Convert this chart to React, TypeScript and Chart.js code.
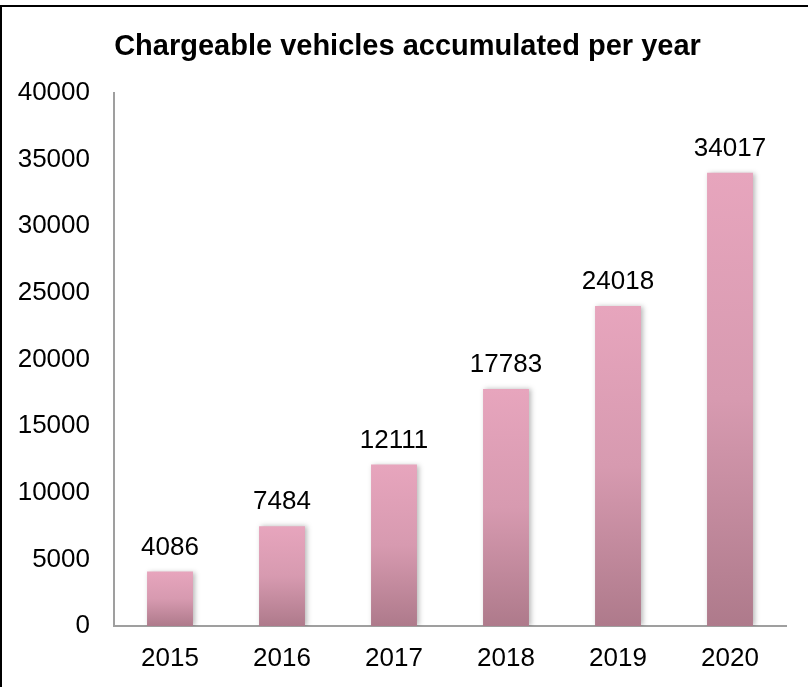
import React, { useEffect, useRef } from "react";
import { Chart, registerables } from "chart.js";

Chart.register(...registerables);

const TITLE = "Chargeable vehicles accumulated per year";
const YEARS = ["2015", "2016", "2017", "2018", "2019", "2020"];
const VEHICLES = [4086, 7484, 12111, 17783, 24018, 34017];
const Y_TICKS = [0, 5000, 10000, 15000, 20000, 25000, 30000, 35000, 40000];

const FONT = "'Liberation Sans', Arial, sans-serif";

export default function App() {
  const canvasRef = useRef<HTMLCanvasElement | null>(null);

  useEffect(() => {
    if (!canvasRef.current) return;

    const shadowPlugin = {
      id: "barShadow",
      beforeDatasetDraw(chart: any) {
        const ctx = chart.ctx;
        ctx.save();
        ctx.shadowColor = "rgba(0,0,0,0.28)";
        ctx.shadowBlur = 5;
        ctx.shadowOffsetX = 2;
        ctx.shadowOffsetY = 0;
      },
      afterDatasetDraw(chart: any) {
        chart.ctx.restore();
      },
    };

    const labelsPlugin = {
      id: "valueLabels",
      afterDatasetsDraw(chart: any) {
        const ctx = chart.ctx;
        const meta = chart.getDatasetMeta(0);
        ctx.save();
        ctx.font = `26px ${FONT}`;
        ctx.fillStyle = "#000";
        ctx.textAlign = "center";
        ctx.textBaseline = "alphabetic";
        meta.data.forEach((el: any, i: number) => {
          ctx.fillText(String(VEHICLES[i]), el.x, el.y - 17);
        });
        ctx.restore();
      },
    };

    const titlePlugin = {
      id: "customTitle",
      afterDraw(chart: any) {
        const ctx = chart.ctx;
        ctx.save();
        ctx.font = `bold 29px ${FONT}`;
        ctx.fillStyle = "#000";
        ctx.textAlign = "center";
        ctx.textBaseline = "alphabetic";
        ctx.fillText(TITLE, 407.5, 55);
        ctx.restore();
      },
    };

    const chart = new Chart(canvasRef.current, {
      type: "bar",
      data: {
        labels: YEARS,
        datasets: [
          {
            data: VEHICLES,
            backgroundColor: (c: any) => {
              const ch = c.chart;
              if (!ch.chartArea || c.raw === undefined) return "#DA9CB2";
              const ys = ch.scales.y;
              const top = ys.getPixelForValue(c.raw);
              const bottom = ys.getPixelForValue(0);
              const g = ch.ctx.createLinearGradient(0, top, 0, bottom);
              g.addColorStop(0, "#E7A5BD");
              g.addColorStop(0.5, "#D79AB0");
              g.addColorStop(1, "#AE7A8B");
              return g;
            },
            borderWidth: 0,
            categoryPercentage: 1,
            barPercentage: 0.41,
          },
        ],
      },
      options: {
        responsive: false,
        animation: false,
        layout: { padding: { top: 93, right: 22, bottom: 0, left: 0 } },
        plugins: {
          legend: { display: false },
          title: { display: false },
          tooltip: { enabled: false },
        },
        scales: {
          x: {
            grid: { display: false, drawTicks: false },
            border: { display: true, color: "#9f9f9f", width: 2 },
            ticks: {
              color: "#000",
              font: { family: FONT, size: 26 },
              padding: 17,
              maxRotation: 0,
            },
            afterFit(scale: any) {
              scale.height = 61;
            },
          },
          y: {
            min: Y_TICKS[0],
            max: Y_TICKS[Y_TICKS.length - 1],
            grid: { display: false, drawTicks: false },
            border: { display: true, color: "#9f9f9f", width: 2 },
            afterBuildTicks(scale: any) {
              scale.ticks = Y_TICKS.map((v) => ({ value: v }));
            },
            ticks: {
              color: "#000",
              font: { family: FONT, size: 26 },
              padding: 24,
              callback: (v: any) => String(v),
            },
            afterFit(scale: any) {
              scale.width = 114;
            },
          },
        },
      },
      plugins: [shadowPlugin, labelsPlugin, titlePlugin],
    });

    return () => chart.destroy();
  }, []);

  return (
    <div
      style={{
        position: "fixed",
        left: 0,
        top: 0,
        width: 808,
        height: 687,
        overflow: "hidden",
        background: "#fff",
      }}
    >
      <canvas
        ref={canvasRef}
        width={808}
        height={687}
        style={{ position: "absolute", left: 0, top: 0, width: 808, height: 687 }}
      />
      <div
        style={{
          position: "absolute",
          left: 0,
          top: 5,
          width: 900,
          height: 900,
          border: "2px solid #000",
          boxSizing: "border-box",
          pointerEvents: "none",
        }}
      />
    </div>
  );
}
